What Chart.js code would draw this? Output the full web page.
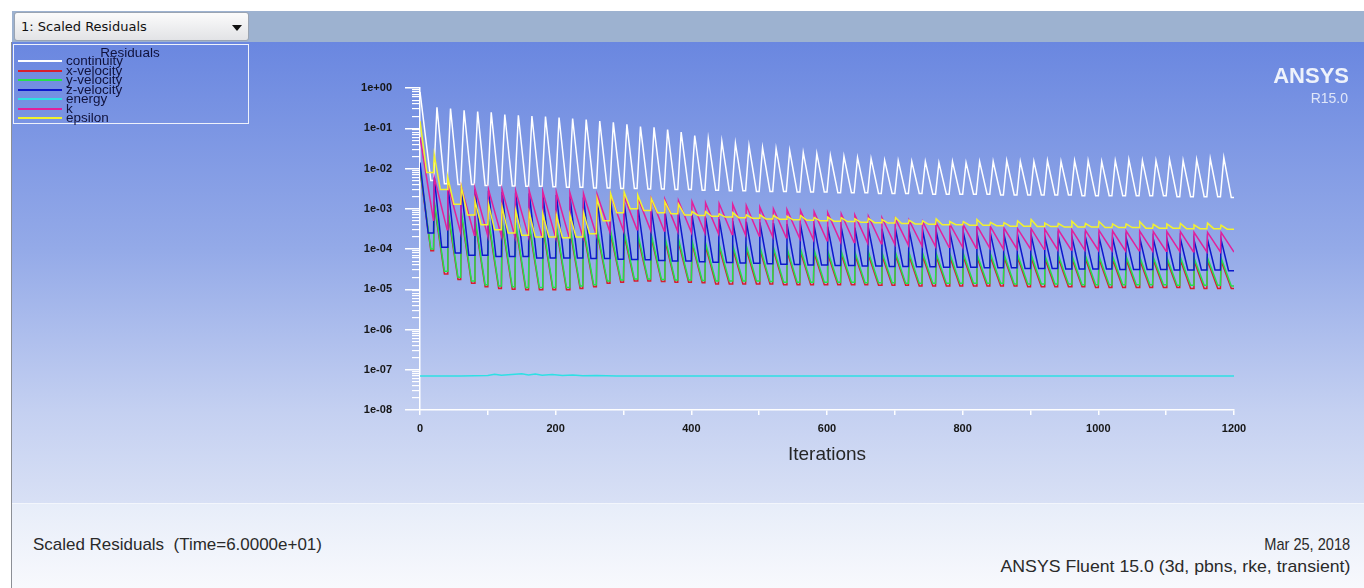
<!DOCTYPE html>
<html>
<head>
<meta charset="utf-8">
<script src="https://cdn.jsdelivr.net/npm/chart.js"></script>
<style>
  body { margin: 0; width: 1364px; height: 588px; overflow: hidden; position: relative; background: #fff; }
  .abs { position: absolute; }
  #header { left: 12px; top: 11px; width: 1352px; height: 31px; background: #9db2d0; }
  #dropdown { left: 14px; top: 12px; width: 233px; height: 27px; border: 1px solid #9aa4b2; border-radius: 3px;
    background: linear-gradient(#fbfbfb, #e2e3e6); font: 13px "DejaVu Sans", sans-serif; color: #111; line-height: 27px; }
  #dropdown span { margin-left: 6px; }
  #arrow { right: 6px; top: 12px; width: 0; height: 0; border-left: 5px solid transparent; border-right: 5px solid transparent; border-top: 6px solid #111; }
  #plotbg { left: 12px; top: 42px; width: 1352px; height: 461px; background: linear-gradient(#6a87e0 0%, #94aae8 45%, #c4d0f1 80%, #d8e0f5 100%); }
  #infobg { left: 12px; top: 503px; width: 1352px; height: 85px; background: linear-gradient(#e7edf9, #f8f9fd); border-top: 1px solid #f3f6fc; }
  #edge { left: 11px; top: 42px; width: 1px; height: 546px; background: #8c8f96; }
  #legend { left: 13px; top: 44px; width: 234px; height: 78px; border: 1px solid #eef2fb; }
  #legend .title { position: absolute; left: 0; width: 232px; top: 1px; text-align: center; font: 13.5px "Liberation Sans", sans-serif; color: #10123c; line-height: 13px; }
  #legend .row { position: absolute; left: 4px; height: 10px; }
  #legend .swatch { position: absolute; left: 0; top: 5px; width: 44px; height: 2px; }
  #legend .name { position: absolute; left: 48px; top: 0px; font: 13.5px "Liberation Sans", sans-serif; color: #10123c; line-height: 12px; white-space: nowrap; }
  #logo { right: 15px; top: 64px; font: bold 22px "Liberation Sans", sans-serif; color: #eef2fb; line-height: 24px; text-align: right; }
  #release { right: 16px; top: 90px; font: 14px "Liberation Sans", sans-serif; color: #dfe6f8; }
  .foot { font: 17px "Liberation Sans", sans-serif; color: #2a2a2a; white-space: nowrap; }
  #chart { left: 0; top: 44px; }
</style>
</head>
<body>
<div id="header" class="abs"></div>
<div id="dropdown" class="abs"><span>1: Scaled Residuals</span><div id="arrow" class="abs"></div></div>
<div id="plotbg" class="abs"></div>
<div id="infobg" class="abs"></div>
<div id="edge" class="abs"></div>
<canvas id="chart" class="abs" width="1364" height="459"></canvas>
<div id="legend" class="abs"><div class="title">Residuals</div></div>
<div id="logo" class="abs">ANSYS</div>
<div id="release" class="abs">R15.0</div>
<div class="abs foot" data-w="289" style="left:33px; top:535px; transform-origin: left;">Scaled Residuals&nbsp; (Time=6.0000e+01)</div>
<div class="abs foot" data-w="86" style="right:14px; top:535px; transform-origin: right;">Mar 25, 2018</div>
<div class="abs foot" data-w="350" style="right:14px; top:557px; transform-origin: right;">ANSYS Fluent 15.0 (3d, pbns, rke, transient)</div>
<script>
// Scaled residuals, one time step every 20 iterations

const seriesNames = ["continuity", "x-velocity", "y-velocity", "z-velocity", "energy", "k", "epsilon"];
const seriesColors = ["#ffffff", "#d81e2c", "#24e04c", "#0c18cc", "#2ee0e4", "#e2209c", "#f2f22e"];

const stepStarts = [0, 20, 40, 60, 80, 100, 120, 140, 160, 180, 200, 220, 240, 260, 280, 300, 320, 340, 360, 380,
  400, 420, 440, 460, 480, 500, 520, 540, 560, 580, 600, 620, 640, 660, 680, 700, 720, 740, 760, 780,
  800, 820, 840, 860, 880, 900, 920, 940, 960, 980, 1000, 1020, 1040, 1060, 1080, 1100, 1120, 1140, 1160, 1180];
const lastIteration = 1200;

const continuityPeak = [0.8, 0.33, 0.31, 0.28, 0.26, 0.25, 0.22, 0.21, 0.20, 0.195,
  0.185, 0.175, 0.165, 0.15, 0.14, 0.125, 0.11, 0.105, 0.093, 0.08,
  0.066, 0.055, 0.047, 0.042, 0.037, 0.033, 0.031, 0.028, 0.025, 0.0235,
  0.021, 0.020, 0.0187, 0.0176, 0.0160, 0.0157, 0.0149, 0.0149, 0.0140, 0.0149,
  0.0140, 0.0149, 0.0149, 0.0157, 0.0149, 0.0149, 0.0157, 0.0149, 0.0157, 0.0157,
  0.0149, 0.0157, 0.0166, 0.0157, 0.0157, 0.0166, 0.0157, 0.0166, 0.0176, 0.0187];
const continuityTrough = [0.0050, 0.0042, 0.0040, 0.0040, 0.0038, 0.0038, 0.0037, 0.0036, 0.0036, 0.0035,
  0.0034, 0.0034, 0.0033, 0.0033, 0.0032, 0.0032, 0.0031, 0.0031, 0.0030, 0.0030,
  0.0029, 0.0029, 0.0028, 0.0028, 0.0027, 0.0027, 0.0027, 0.0026, 0.0026, 0.0026,
  0.0025, 0.0025, 0.0025, 0.0024, 0.0024, 0.0024, 0.0024, 0.0023, 0.0023, 0.0023,
  0.0023, 0.0023, 0.0022, 0.0022, 0.0022, 0.0022, 0.0022, 0.0022, 0.0021, 0.0021,
  0.0021, 0.0021, 0.0021, 0.0021, 0.0021, 0.0020, 0.0020, 0.0020, 0.0020, 0.0019];

const xVelocityPeak = [9.0e-3, 1.3e-3, 8.5e-4, 6.8e-4, 5.1e-4, 4.7e-4, 4.3e-4, 3.8e-4, 3.6e-4, 3.4e-4,
  3.2e-4, 3.0e-4, 2.8e-4, 2.6e-4, 2.4e-4, 2.2e-4, 2.0e-4, 1.9e-4, 1.7e-4, 1.5e-4,
  1.4e-4, 1.2e-4, 1.1e-4, 1.05e-4, 1.0e-4, 9.8e-5, 9.4e-5, 9.0e-5, 8.5e-5, 8.1e-5,
  7.7e-5, 7.5e-5, 7.3e-5, 7.2e-5, 7.0e-5, 7.0e-5, 6.8e-5, 6.7e-5, 6.6e-5, 6.5e-5,
  6.5e-5, 6.4e-5, 6.4e-5, 6.3e-5, 6.2e-5, 6.1e-5, 6.0e-5, 6.0e-5, 5.9e-5, 5.8e-5,
  5.7e-5, 5.6e-5, 5.5e-5, 5.4e-5, 5.4e-5, 5.3e-5, 5.3e-5, 5.2e-5, 5.1e-5, 5.1e-5];
const xVelocityTrough = [9.0e-5, 2.4e-5, 1.75e-5, 1.4e-5, 1.15e-5, 1.05e-5, 1.0e-5, 9.7e-6, 9.7e-6, 9.7e-6,
  9.7e-6, 1.05e-5, 1.15e-5, 1.4e-5, 1.5e-5, 1.6e-5, 1.6e-5, 1.55e-5, 1.5e-5, 1.5e-5,
  1.45e-5, 1.35e-5, 1.35e-5, 1.35e-5, 1.35e-5, 1.35e-5, 1.3e-5, 1.3e-5, 1.3e-5, 1.3e-5,
  1.3e-5, 1.3e-5, 1.3e-5, 1.25e-5, 1.25e-5, 1.25e-5, 1.2e-5, 1.2e-5, 1.2e-5, 1.2e-5,
  1.2e-5, 1.2e-5, 1.2e-5, 1.2e-5, 1.15e-5, 1.15e-5, 1.15e-5, 1.15e-5, 1.15e-5, 1.1e-5,
  1.1e-5, 1.1e-5, 1.1e-5, 1.1e-5, 1.1e-5, 1.1e-5, 1.05e-5, 1.05e-5, 1.05e-5, 1.05e-5];

const yVelocityPeak = [1.0e-2, 1.5e-3, 1.0e-3, 8.0e-4, 6.0e-4, 5.5e-4, 5.0e-4, 4.5e-4, 4.2e-4, 4.0e-4,
  3.8e-4, 3.5e-4, 3.3e-4, 3.0e-4, 2.8e-4, 2.6e-4, 2.4e-4, 2.2e-4, 2.0e-4, 1.8e-4,
  1.6e-4, 1.4e-4, 1.3e-4, 1.25e-4, 1.2e-4, 1.15e-4, 1.1e-4, 1.05e-4, 1.0e-4, 9.5e-5,
  9.0e-5, 8.8e-5, 8.6e-5, 8.5e-5, 8.3e-5, 8.2e-5, 8.0e-5, 7.9e-5, 7.8e-5, 7.7e-5,
  7.6e-5, 7.5e-5, 7.5e-5, 7.4e-5, 7.3e-5, 7.2e-5, 7.1e-5, 7.0e-5, 6.9e-5, 6.8e-5,
  6.7e-5, 6.6e-5, 6.5e-5, 6.4e-5, 6.3e-5, 6.2e-5, 6.2e-5, 6.1e-5, 6.0e-5, 6.0e-5];
const yVelocityTrough = [1.0e-4, 2.8e-5, 2.0e-5, 1.6e-5, 1.3e-5, 1.2e-5, 1.15e-5, 1.1e-5, 1.1e-5, 1.1e-5,
  1.1e-5, 1.2e-5, 1.3e-5, 1.6e-5, 1.7e-5, 1.8e-5, 1.8e-5, 1.75e-5, 1.7e-5, 1.7e-5,
  1.65e-5, 1.6e-5, 1.6e-5, 1.6e-5, 1.6e-5, 1.55e-5, 1.5e-5, 1.5e-5, 1.5e-5, 1.5e-5,
  1.5e-5, 1.5e-5, 1.45e-5, 1.45e-5, 1.45e-5, 1.4e-5, 1.4e-5, 1.4e-5, 1.4e-5, 1.4e-5,
  1.4e-5, 1.4e-5, 1.4e-5, 1.35e-5, 1.35e-5, 1.35e-5, 1.35e-5, 1.35e-5, 1.3e-5, 1.3e-5,
  1.3e-5, 1.3e-5, 1.3e-5, 1.3e-5, 1.3e-5, 1.25e-5, 1.25e-5, 1.25e-5, 1.25e-5, 1.2e-5];

const zVelocityPeak = [1.4e-2, 6.0e-3, 4.0e-3, 3.2e-3, 3.0e-3, 2.8e-3, 2.6e-3, 2.5e-3, 2.4e-3, 2.3e-3,
  2.2e-3, 2.0e-3, 1.9e-3, 1.8e-3, 1.6e-3, 1.4e-3, 1.2e-3, 1.0e-3, 9.0e-4, 8.0e-4,
  7.0e-4, 6.0e-4, 5.5e-4, 5.0e-4, 4.8e-4, 4.6e-4, 4.4e-4, 4.2e-4, 4.0e-4, 3.8e-4,
  3.6e-4, 3.5e-4, 3.4e-4, 3.3e-4, 3.2e-4, 3.1e-4, 3.0e-4, 2.9e-4, 2.8e-4, 2.7e-4,
  2.6e-4, 2.5e-4, 2.4e-4, 2.3e-4, 2.2e-4, 2.2e-4, 2.1e-4, 2.1e-4, 2.0e-4, 2.0e-4,
  2.0e-4, 1.9e-4, 1.9e-4, 1.9e-4, 1.8e-4, 1.8e-4, 1.8e-4, 1.7e-4, 1.7e-4, 1.7e-4];
const zVelocityTrough = [2.5e-4, 1.1e-4, 8.0e-5, 7.0e-5, 7.0e-5, 6.5e-5, 6.5e-5, 6.5e-5, 6.0e-5, 6.0e-5,
  6.0e-5, 6.0e-5, 5.8e-5, 5.8e-5, 5.6e-5, 5.5e-5, 5.4e-5, 5.2e-5, 5.0e-5, 5.0e-5,
  4.8e-5, 4.7e-5, 4.6e-5, 4.5e-5, 4.4e-5, 4.3e-5, 4.2e-5, 4.1e-5, 4.0e-5, 4.0e-5,
  3.9e-5, 3.9e-5, 3.8e-5, 3.8e-5, 3.7e-5, 3.7e-5, 3.6e-5, 3.6e-5, 3.5e-5, 3.5e-5,
  3.5e-5, 3.4e-5, 3.4e-5, 3.4e-5, 3.3e-5, 3.3e-5, 3.3e-5, 3.2e-5, 3.2e-5, 3.2e-5,
  3.2e-5, 3.1e-5, 3.1e-5, 3.1e-5, 3.1e-5, 3.0e-5, 3.0e-5, 3.0e-5, 3.0e-5, 2.9e-5];

const energyIterations = [0, 60, 100, 110, 120, 135, 150, 160, 170, 180, 195, 210, 225, 240, 260, 290, 1200];
const energyValues = [7.0e-8, 7.0e-8, 7.2e-8, 7.7e-8, 7.3e-8, 7.6e-8, 7.9e-8, 7.4e-8, 7.8e-8, 7.3e-8,
  7.6e-8, 7.2e-8, 7.4e-8, 7.1e-8, 7.2e-8, 7.0e-8, 7.0e-8];

const kPeak = [6.0e-2, 6.0e-3, 4.0e-3, 3.5e-3, 3.2e-3, 3.0e-3, 3.0e-3, 2.8e-3, 2.8e-3, 2.7e-3,
  2.6e-3, 2.5e-3, 2.4e-3, 2.3e-3, 2.2e-3, 2.0e-3, 1.9e-3, 1.8e-3, 1.7e-3, 1.6e-3,
  1.5e-3, 1.4e-3, 1.35e-3, 1.3e-3, 1.2e-3, 1.1e-3, 1.0e-3, 9.5e-4, 9.0e-4, 8.5e-4,
  8.0e-4, 7.5e-4, 7.0e-4, 6.5e-4, 6.0e-4, 5.6e-4, 5.2e-4, 4.8e-4, 4.5e-4, 4.2e-4,
  4.0e-4, 3.8e-4, 3.6e-4, 3.3e-4, 3.2e-4, 3.2e-4, 3.1e-4, 3.0e-4, 3.0e-4, 2.9e-4,
  2.9e-4, 2.8e-4, 2.8e-4, 2.8e-4, 2.7e-4, 2.7e-4, 2.7e-4, 2.6e-4, 2.6e-4, 2.6e-4];
const kTrough = [5.0e-4, 3.0e-4, 2.5e-4, 2.2e-4, 2.1e-4, 2.1e-4, 2.0e-4, 2.0e-4, 2.0e-4, 1.9e-4,
  1.9e-4, 2.0e-4, 2.2e-4, 2.6e-4, 2.8e-4, 3.0e-4, 2.9e-4, 2.8e-4, 2.7e-4, 2.6e-4,
  2.5e-4, 2.4e-4, 2.3e-4, 2.2e-4, 2.1e-4, 2.0e-4, 1.9e-4, 1.8e-4, 1.7e-4, 1.6e-4,
  1.5e-4, 1.45e-4, 1.4e-4, 1.35e-4, 1.3e-4, 1.25e-4, 1.2e-4, 1.15e-4, 1.1e-4, 1.1e-4,
  1.05e-4, 1.05e-4, 1.0e-4, 1.0e-4, 1.0e-4, 9.8e-5, 9.6e-5, 9.5e-5, 9.4e-5, 9.3e-5,
  9.2e-5, 9.0e-5, 9.0e-5, 8.9e-5, 8.8e-5, 8.7e-5, 8.6e-5, 8.5e-5, 8.5e-5, 8.4e-5];

const epsilonPeak = [1.5e-1, 2.2e-2, 6.0e-3, 3.5e-3, 1.6e-3, 1.3e-3, 1.1e-3, 9.0e-4, 8.0e-4, 7.5e-4,
  7.0e-4, 7.0e-4, 8.0e-4, 1.8e-3, 2.4e-3, 2.6e-3, 2.2e-3, 1.8e-3, 1.5e-3, 1.3e-3,
  8.5e-4, 8.5e-4, 7.5e-4, 8.0e-4, 7.0e-4, 7.0e-4, 6.8e-4, 6.5e-4, 6.8e-4, 6.0e-4,
  6.2e-4, 6.0e-4, 5.6e-4, 5.8e-4, 5.4e-4, 6.0e-4, 5.2e-4, 5.0e-4, 5.6e-4, 4.8e-4,
  4.8e-4, 5.4e-4, 4.6e-4, 4.5e-4, 5.0e-4, 5.4e-4, 4.4e-4, 4.3e-4, 4.9e-4, 4.3e-4,
  4.8e-4, 4.2e-4, 4.2e-4, 4.8e-4, 4.1e-4, 4.2e-4, 4.3e-4, 4.0e-4, 4.4e-4, 3.9e-4];
const epsilonTrough = [8.0e-3, 3.0e-3, 1.3e-3, 7.0e-4, 4.0e-4, 3.0e-4, 2.5e-4, 2.2e-4, 2.0e-4, 2.0e-4,
  1.9e-4, 2.0e-4, 2.4e-4, 5.0e-4, 8.0e-4, 1.0e-3, 9.0e-4, 8.0e-4, 7.5e-4, 7.0e-4,
  6.8e-4, 6.5e-4, 6.2e-4, 6.0e-4, 5.8e-4, 5.6e-4, 5.5e-4, 5.3e-4, 5.2e-4, 5.0e-4,
  4.9e-4, 4.8e-4, 4.6e-4, 4.5e-4, 4.4e-4, 4.3e-4, 4.2e-4, 4.1e-4, 4.0e-4, 4.0e-4,
  3.9e-4, 3.9e-4, 3.8e-4, 3.7e-4, 3.7e-4, 3.6e-4, 3.6e-4, 3.5e-4, 3.5e-4, 3.5e-4,
  3.4e-4, 3.4e-4, 3.4e-4, 3.3e-4, 3.3e-4, 3.3e-4, 3.2e-4, 3.2e-4, 3.2e-4, 3.1e-4];

const xTickValues = [0, 100, 200, 300, 400, 500, 600, 700, 800, 900, 1000, 1100, 1200];
const xTickLabels = ["0", "", "200", "", "400", "", "600", "", "800", "", "1000", "", "1200"];
const yTickValues = [1, 1e-1, 1e-2, 1e-3, 1e-4, 1e-5, 1e-6, 1e-7, 1e-8];
const yTickLabels = ["1e+00", "1e-01", "1e-02", "1e-03", "1e-04", "1e-05", "1e-06", "1e-07", "1e-08"];

// minor log ticks, 2..9 inside each decade
const yMinorValues = [];
yTickValues.slice(1).forEach(v => {
  for (let m = 2; m <= 9; m++) yMinorValues.push(m * v);
});

// each time step: jump to the peak, fall to the trough, stay there until the next step
function stepSeries(peaks, troughs, rise, settle) {
  const pts = [];
  stepStarts.forEach((s, k) => {
    const end = k + 1 < stepStarts.length ? stepStarts[k + 1] : lastIteration;
    pts.push({ x: k === 0 ? s : s + rise, y: peaks[k] });
    pts.push({ x: s + settle, y: troughs[k] });
    if (s + settle < end) pts.push({ x: end, y: troughs[k] });
  });
  return pts;
}

const seriesPoints = [
  stepSeries(continuityPeak, continuityTrough, 5, 16),
  stepSeries(xVelocityPeak, xVelocityTrough, 1, 16),
  stepSeries(yVelocityPeak, yVelocityTrough, 1, 16),
  stepSeries(zVelocityPeak, zVelocityTrough, 1, 12),
  energyIterations.map((x, i) => ({ x: x, y: energyValues[i] })),
  stepSeries(kPeak, kTrough, 1, 20),
  stepSeries(epsilonPeak, epsilonTrough, 1, 10),
];

// legend box
const legendBox = document.getElementById("legend");
seriesNames.forEach((name, i) => {
  const row = document.createElement("div");
  row.className = "row";
  row.style.top = (10 + i * 9.5) + "px";
  row.innerHTML = '<div class="swatch" style="background:' + seriesColors[i] + '"></div><div class="name">' + name + "</div>";
  legendBox.appendChild(row);
});

// footer lines squeezed to the width they take in the Fluent window
document.querySelectorAll(".foot").forEach(el => {
  const w = el.getBoundingClientRect().width;
  el.style.transform = "scaleX(" + (Number(el.dataset.w) / w).toFixed(3) + ")";
});

const tickFont = { family: '"Liberation Sans", Arial, sans-serif', size: 11, weight: "bold" };

const ctx = document.getElementById("chart");

new Chart(ctx, {
  type: "line",
  data: {
    datasets: seriesNames.map((name, i) => ({
      label: name,
      data: seriesPoints[i],
      borderColor: seriesColors[i],
      borderWidth: 1.5,
      pointRadius: 0,
      tension: 0,
      fill: false,
      yAxisID: "y",
      order: seriesNames.length - i,
    })),
  },
  options: {
    responsive: false,
    animation: false,
    devicePixelRatio: 1,
    parsing: false,
    layout: { padding: { left: 0, right: 130, top: 44, bottom: 0 } },
    plugins: { legend: { display: false }, tooltip: { enabled: false } },
    scales: {
      x: {
        type: "linear",
        min: 0,
        max: lastIteration,
        afterFit: (s) => { s.height = 93; },
        afterBuildTicks: (s) => { s.ticks = xTickValues.map(v => ({ value: v })); },
        ticks: {
          autoSkip: false,
          maxRotation: 0,
          padding: 7,
          color: "#161616",
          font: tickFont,
          callback: (v, i) => xTickLabels[i],
        },
        grid: { drawOnChartArea: false, color: "#ffffff", tickLength: 5, lineWidth: 1.5 },
        border: { color: "#ffffff", width: 1.5 },
        title: {
          display: true,
          text: "Iterations",
          color: "#262626",
          font: { family: '"Liberation Sans", Arial, sans-serif', size: 19 },
          padding: { top: 0, bottom: 37 },
        },
      },
      y: {
        type: "logarithmic",
        position: "left",
        min: 1e-8,
        max: 1,
        weight: 1,
        afterFit: (s) => { s.width = 420; },
        afterBuildTicks: (s) => { s.ticks = yTickValues.map(v => ({ value: v, major: true })); },
        ticks: {
          autoSkip: false,
          padding: 13,
          color: "#161616",
          font: tickFont,
          callback: (v, i) => yTickLabels[i],
        },
        grid: { drawOnChartArea: false, color: "#ffffff", tickLength: 15, lineWidth: 1.5 },
        border: { color: "#ffffff", width: 1.5 },
      },
      yMinor: {
        type: "logarithmic",
        position: "left",
        min: 1e-8,
        max: 1,
        weight: 0,
        afterFit: (s) => { s.width = 0; },
        afterBuildTicks: (s) => { s.ticks = yMinorValues.map(v => ({ value: v })); },
        ticks: { display: false },
        grid: { drawOnChartArea: false, color: "#ffffff", tickLength: 8, lineWidth: 1.2 },
        border: { display: false },
      },
    },
  },
});
</script>
</body>
</html>
